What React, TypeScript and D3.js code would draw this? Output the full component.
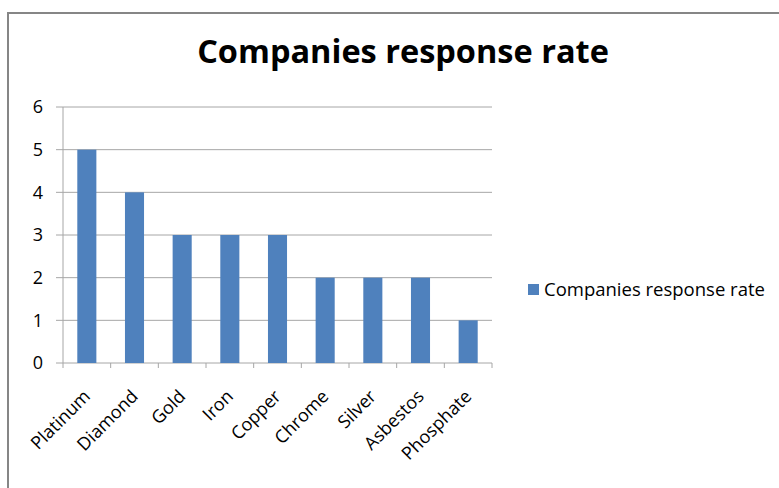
import React from "react";
import * as d3 from "d3";

const categories = ["Platinum", "Diamond", "Gold", "Iron", "Copper", "Chrome", "Silver", "Asbestos", "Phosphate"];
const values = [5, 4, 3, 3, 3, 2, 2, 2, 1];
const yTicks = [0, 1, 2, 3, 4, 5, 6];
const title = "Companies response rate";
const seriesName = "Companies response rate";

export default function App() {
  const W = 779, H = 488;
  const left = 63, right = 492, top = 107, bottom = 363;
  const x = d3.scaleBand<string>().domain(categories).range([left, right]).paddingInner(0.6).paddingOuter(0.3);
  const xb = d3.scaleBand<string>().domain(categories).range([left, right]);
  const y = d3.scaleLinear().domain([0, 6]).range([bottom, top]);
  const font = "'Open Sans', sans-serif";
  const grid = "#a6a6a6";
  const bar = "#4F81BD";
  return (
    <svg width={W} height={H} style={{ position: "absolute", left: 0, top: 0, background: "#fff" }}>
      <rect x={8} y={13} width={W + 20} height={H} fill="#fff" stroke="#868686" strokeWidth={2} />
      <text x={403} y={63} textAnchor="middle" fontFamily={font} fontWeight="bold" fontSize={32.5} fill="#000">{title}</text>
      {yTicks.map((t) => (
        <g key={t}>
          <line x1={56} x2={right} y1={y(t)} y2={y(t)} stroke={grid} strokeWidth={1} />
          <text x={43} y={y(t)} dy="0.35em" textAnchor="end" fontFamily={font} fontSize={18} fill="#000">{t}</text>
        </g>
      ))}
      <line x1={left} x2={left} y1={top} y2={bottom} stroke={grid} strokeWidth={1} />
      {categories.map((c) => (
        <line key={"t" + c} x1={xb(c)!} x2={xb(c)!} y1={bottom} y2={bottom + 5} stroke={grid} />
      ))}
      <line x1={right} x2={right} y1={bottom} y2={bottom + 5} stroke={grid} />
      {categories.map((c, i) => (
        <rect key={c} x={x(c)!} y={y(values[i])} width={x.bandwidth()} height={bottom - y(values[i])} fill={bar} />
      ))}
      {categories.map((c) => {
        const cx = xb(c)! + xb.bandwidth() / 2 + 4.5;
        const cy = bottom + 34.5;
        return (
          <text key={"l" + c} x={cx} y={cy} transform={`rotate(-45 ${cx} ${cy})`} textAnchor="end" fontFamily={font} fontSize={18} fill="#000">{c}</text>
        );
      })}
      <rect x={528} y={284} width={11} height={11} fill={bar} />
      <text x={544} y={289.5} dy="0.35em" fontFamily={font} fontSize={18.5} fill="#000">{seriesName}</text>
    </svg>
  );
}
